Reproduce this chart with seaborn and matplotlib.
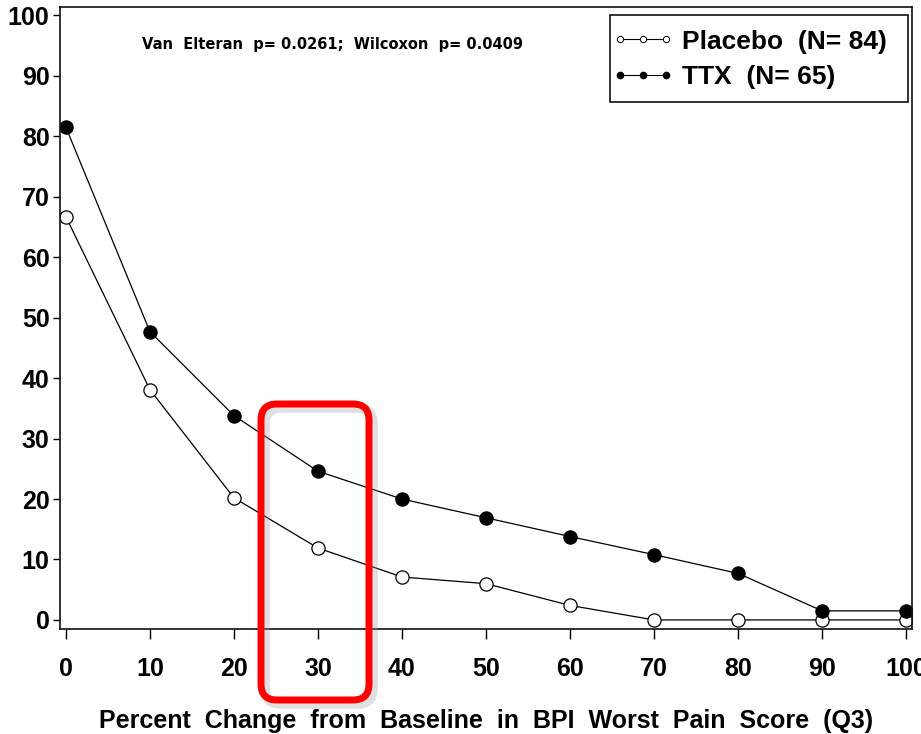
import matplotlib
matplotlib.use("Agg")
import matplotlib.pyplot as plt
import seaborn as sns
import pandas as pd
from matplotlib.patches import FancyBboxPatch, Rectangle
from matplotlib.lines import Line2D
from matplotlib.legend_handler import HandlerLine2D

pct_change = [0, 10, 20, 30, 40, 50, 60, 70, 80, 90, 100]
placebo = [66.7, 38.1, 20.2, 11.9, 7.1, 6.0, 2.4, 0.0, 0.0, 0.0, 0.0]
ttx = [81.5, 47.7, 33.8, 24.6, 20.0, 16.9, 13.8, 10.8, 7.7, 1.5, 1.5]
placebo_label = "Placebo  (N= 84)"
ttx_label = "TTX  (N= 65)"
yticks = [0, 10, 20, 30, 40, 50, 60, 70, 80, 90, 100]
annot = "Van  Elteran  p= 0.0261;  Wilcoxon  p= 0.0409"
xlabel = "Percent  Change  from  Baseline  in  BPI  Worst  Pain  Score  (Q3)"

sns.set_style("white")
plt.rcParams['font.family'] = ['Liberation Sans', 'DejaVu Sans']
plt.rcParams['text.color'] = 'black'
plt.rcParams['xtick.color'] = 'black'
plt.rcParams['ytick.color'] = 'black'
plt.rcParams['axes.labelcolor'] = 'black'

W, H = 921, 734
fig = plt.figure(figsize=(W / 100, H / 100), dpi=100)
ax = fig.add_axes([60 / W, 1 - 629 / H, (912 - 60) / W, (629 - 7) / H])

df_p = pd.DataFrame({"x": pct_change, "y": placebo})
df_t = pd.DataFrame({"x": pct_change, "y": ttx})
sns.lineplot(data=df_p, x="x", y="y", ax=ax, color="black", linewidth=0.9,
             marker="o", markersize=9.5, markerfacecolor="white",
             markeredgecolor="black", markeredgewidth=0.9)
sns.lineplot(data=df_t, x="x", y="y", ax=ax, color="black", linewidth=0.9,
             marker="o", markersize=9.5, markerfacecolor="black",
             markeredgecolor="black", markeredgewidth=0.9)

ax.set_xlim(-0.7, 100.7)
ax.set_ylim(-1.5, 101.4)
ax.set_xticks(pct_change)
ax.set_yticks(yticks)
ax.set_xticklabels([str(v) for v in pct_change], fontsize=18, fontweight="bold")
ax.set_yticklabels([str(v) for v in yticks], fontsize=18, fontweight="bold")
ax.tick_params(axis="both", colors="black", labelcolor="black")
ax.tick_params(axis="x", direction="out", length=7.5, width=1, pad=13, bottom=True)
ax.tick_params(axis="y", direction="out", length=5, width=1, pad=2.5, left=True)
for s in ax.spines.values():
    s.set_color("#111111")
    s.set_linewidth(1.2)
ax.set_xlabel(xlabel, fontsize=18, fontweight="bold", labelpad=20, color="black")
ax.set_ylabel("")
ax.grid(False)

fig.text(332 / W, 1 - 45 / H, annot, ha="center", va="center",
         fontsize=10.5, fontweight="bold", family="DejaVu Sans", color="black")

handles = [
    Line2D([0], [0], color="black", linewidth=0.8, marker="o", markersize=4.5,
           markerfacecolor="white", markeredgecolor="black", markeredgewidth=0.7),
    Line2D([0], [0], color="black", linewidth=0.8, marker="o", markersize=4.5,
           markerfacecolor="black", markeredgecolor="black"),
]
leg = ax.legend(handles, [placebo_label, ttx_label], numpoints=3,
                loc="upper left", bbox_to_anchor=(617.5 / W, 1 - 27 / H),
                bbox_transform=fig.transFigure, frameon=False,
                prop={"size": 19, "weight": "bold"},
                handlelength=1.74, handletextpad=0.6, borderpad=0.1,
                labelspacing=0.44, borderaxespad=0,
                handler_map={Line2D: HandlerLine2D(marker_pad=0.0)})
for t in leg.get_texts():
    t.set_color("black")
frame = Rectangle((610, H - 102), 908 - 610, 102 - 15, transform=None,
                  fill=False, edgecolor="#111111", linewidth=1.2, zorder=5)
fig.patches.append(frame)

# red highlight rectangle with shadow
x0, x1, y0, y1 = 261, 369, 404, 700
shadow = FancyBboxPatch((x0 + 4, H - y1 - 4), x1 - x0, y1 - y0,
                        boxstyle="round,pad=0,rounding_size=16",
                        transform=None, fill=False, edgecolor="#999999",
                        linewidth=7, alpha=0.3, zorder=9)
rect = FancyBboxPatch((x0, H - y1), x1 - x0, y1 - y0,
                      boxstyle="round,pad=0,rounding_size=16",
                      transform=None, fill=False, edgecolor="#ff0000",
                      linewidth=5, zorder=10)
fig.patches.extend([shadow, rect])

fig.savefig("out.png", dpi=100)
